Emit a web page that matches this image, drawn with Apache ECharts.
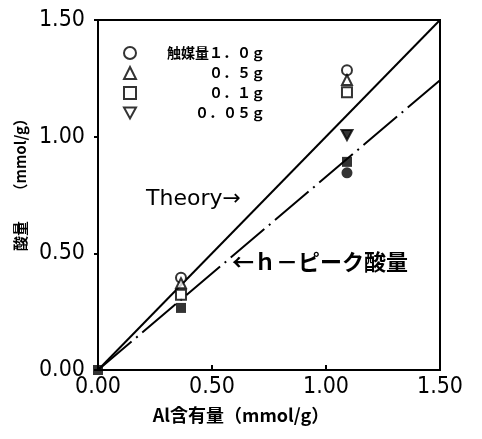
<!DOCTYPE html>
<html>
<head>
<meta charset="utf-8">
<script src="https://cdn.jsdelivr.net/npm/echarts@6/dist/echarts.min.js"></script>
<style>
html,body{margin:0;padding:0;background:#fff;}
#c{width:482px;height:439px;}
</style>
</head>
<body>
<div id="c"></div>
<script>
// ---- data ----
const xTicks = [0, 0.5, 1.0, 1.5];
const yTicks = [0, 0.5, 1.0, 1.5];
const legendNames = ['触媒量１．０ｇ', '０．５ｇ', '０．１ｇ', '０．０５ｇ'];
const cat10 = [[0.364, 0.395], [1.092, 1.285]];
const cat05 = [[0.364, 0.372], [1.092, 1.243]];
const cat01 = [[0.364, 0.322], [1.092, 1.19]];
const cat005 = [[1.092, 1.007]];
const hpeakSquares = [[0, 0], [0.364, 0.266], [1.092, 0.892]];
const hpeakCircles = [[1.092, 0.845]];
const theoryLine = [[0, 0], [1.5, 1.5]];
const hpeakLine = [[0, 0], [1.5, 1.242]];

const tickFont = "'Liberation Sans Narrow','DejaVu Sans Condensed','DejaVu Sans Mono',sans-serif";
const cjkFont = "'Noto Sans CJK JP',sans-serif";
const openStyle = {color: '#fff', borderColor: '#000', borderWidth: 2};
const invTri = 'path://M0,0 L10,0 L5,9 Z';

const chart = echarts.init(document.getElementById('c'));
chart.setOption({
  animation: false,
  backgroundColor: '#fff',
  grid: {left: 98, right: 42, top: 20, bottom: 69, show: true, borderColor: '#000', borderWidth: 2, backgroundColor: 'transparent'},
  xAxis: {
    type: 'value', min: xTicks[0], max: xTicks[xTicks.length - 1], interval: 0.5,
    axisLine: {lineStyle: {color: '#000', width: 2}},
    axisTick: {inside: true, length: 5, lineStyle: {color: '#000', width: 2}},
    splitLine: {show: false},
    axisLabel: {color: '#000', fontSize: 23, fontFamily: tickFont, margin: 6, formatter: v => v.toFixed(2)},
    name: 'Al含有量（mmol/g）', nameLocation: 'middle', nameGap: 36,
    nameTextStyle: {color: '#000', fontSize: 18, fontWeight: 'bold', fontFamily: cjkFont, padding: [0, 56, 0, 0]}
  },
  yAxis: {
    type: 'value', min: yTicks[0], max: yTicks[yTicks.length - 1], interval: 0.5,
    axisLine: {lineStyle: {color: '#000', width: 2}},
    axisTick: {inside: false, length: 4, lineStyle: {color: '#000', width: 2}},
    splitLine: {show: false},
    axisLabel: {color: '#000', fontSize: 23, fontFamily: tickFont, margin: 13, formatter: v => v.toFixed(2)},
    name: '酸量　　（mmol/g）', nameLocation: 'middle', nameGap: 62, nameRotate: 90,
    nameTextStyle: {color: '#000', fontSize: 15, fontWeight: 'bold', fontFamily: cjkFont, padding: [0, 0, 0, 28]}
  },
  legend: {
    data: legendNames, orient: 'vertical', left: 118, top: 41,
    itemWidth: 12, itemHeight: 12, itemGap: 6,
    formatter: n => '{a|' + n + '}',
    textStyle: {color: '#000', fontWeight: 'bold', fontSize: 14, fontFamily: cjkFont,
      rich: {a: {width: 124, align: 'right', fontWeight: 'bold', fontSize: 14, fontFamily: cjkFont}}}
  },
  graphic: [
    {type: 'text', left: 146, top: 188, style: {text: 'Theory→', fontSize: 22, fill: '#000', fontFamily: "'DejaVu Sans',sans-serif"}},
    {type: 'text', left: 232, top: 251, style: {text: '←ｈ－ピーク酸量', fontSize: 22, fontWeight: 'bold', fill: '#000', fontFamily: cjkFont}}
  ],
  series: [
    {type: 'line', data: theoryLine, symbol: 'none', lineStyle: {color: '#000', width: 2}, silent: true, z: 1},
    {type: 'line', data: hpeakLine, symbol: 'none', lineStyle: {color: '#000', width: 2, type: [44, 6, 2, 6]}, silent: true, z: 1},
    {name: legendNames[0], type: 'scatter', data: cat10, symbol: 'circle', symbolSize: 10, itemStyle: openStyle, z: 3},
    {name: legendNames[1], type: 'scatter', data: cat05, symbol: 'triangle', symbolSize: 10, itemStyle: openStyle, z: 3},
    {name: legendNames[2], type: 'scatter', data: cat01, symbol: 'rect', symbolSize: 10, itemStyle: openStyle, z: 3},
    {name: legendNames[3], type: 'scatter', data: cat005.map(p => ({value: p, itemStyle: {color: '#000'}})), symbol: invTri, symbolSize: [11, 10], itemStyle: openStyle, z: 3},
    {name: 'hpeak-sq', type: 'scatter', data: hpeakSquares, symbol: 'rect', symbolSize: 10, itemStyle: {color: '#000'}, z: 4},
    {name: 'hpeak-ci', type: 'scatter', data: hpeakCircles, symbol: 'circle', symbolSize: 11, itemStyle: {color: '#000'}, z: 4}
  ]
});
</script>
</body>
</html>
